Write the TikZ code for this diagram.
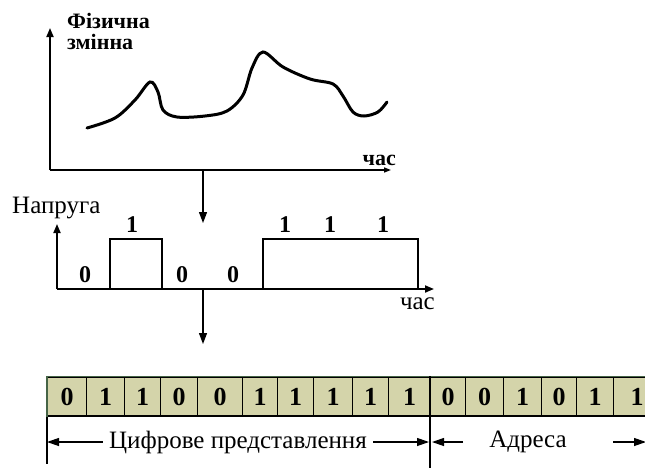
\documentclass[tikz,border=0pt]{standalone}
\usepackage{fontspec}
\setmainfont{Liberation Serif}
\usetikzlibrary{arrows.meta,calc}
\definecolor{cellfill}{RGB}{212,212,170}
\definecolor{cellborder}{RGB}{70,100,70}
\begin{document}
\begin{tikzpicture}[x=1pt,y=-1pt,
  axis/.style={line width=1.8pt,-{Triangle[length=9pt,width=7pt]}},
  flow/.style={line width=1.3pt,-{Triangle[length=11pt,width=8pt]}},
  curve/.style={line width=3pt,line cap=round},
  signal/.style={line width=1.8pt,line join=miter},
  lbl/.style={inner sep=0pt,font=\fontsize{25}{22}\selectfont},
  blbl/.style={inner sep=0pt,font=\bfseries\fontsize{22}{21}\selectfont},
  bit/.style={inner sep=0pt,font=\bfseries\fontsize{24}{24}\selectfont},
  cellbox/.style={draw=black,line width=1.2pt,fill=cellfill,minimum height=39pt,inner sep=0pt,font=\bfseries\fontsize{26}{26}\selectfont},
  dim/.style={line width=1.2pt,-{Triangle[length=12pt,width=8pt]}},
  guide/.style={line width=1.2pt}]
\useasboundingbox (0,0) rectangle (645,469);

% ---------- top graph ----------
\coordinate (o1) at (50,170);
\coordinate (y1) at (50,28);
\coordinate (x1) at (391,170);
\draw[axis] (o1) -- (y1);
\draw[line width=1.5pt,-{Triangle[length=7pt,width=5pt]}] (o1) -- (x1);
\node[blbl,anchor=north west,align=left] (phys) at (67,13) {Фізична\\змінна};
\node[blbl,anchor=south east] (t1) at (396,166) {час};
\draw[curve] plot[smooth,tension=0.55] coordinates {
  (87,128) (115,118) (135,100) (150,82) (158,92) (163,110) (177,117)
  (205,116) (227,111) (243,95) (252,68) (263,52) (283,67) (310,79)
  (333,84) (343,96) (353,112) (364,116) (378,112) (387,102)};

% arrow 1
\coordinate (a1s) at (203,170);
\coordinate (a1e) at (203,223);
\draw[flow] (a1s) -- (a1e);

% ---------- second graph ----------
\coordinate (o2) at (57,289);
\coordinate (y2) at (57,224);
\coordinate (x2) at (434,289);
\draw[axis] (o2) -- (y2);
\draw[axis] (o2) -- (x2);
\draw[signal] (o2) -- (110,289) -- (110,239) -- (162,239) -- (162,289)
  -- (263,289) -- (263,239) -- (418,239) -- (418,289);
\node[lbl,anchor=south west] (volt) at (12,219) {Напруга};
\node[lbl,anchor=north east] (t2) at (435,298) {час};
\node[bit] (b1) at (85,275) {0};
\node[bit] (b2) at (132,225) {1};
\node[bit] (b3) at (182,275) {0};
\node[bit] (b4) at (233,275) {0};
\node[bit] (b5) at (285,225) {1};
\node[bit] (b6) at (330,225) {1};
\node[bit] (b7) at (383,225) {1};

% arrow 2
\coordinate (a2s) at (203,289);
\coordinate (a2e) at (203,344);
\draw[flow] (a2s) -- (a2e);

% ---------- register ----------
\foreach \a/\b/\d [count=\i] in {47/86/0,86/124/1,124/160/1,160/197/0,197/242/0,
  242/277/1,277/313/1,313/352/1,352/388/1,388/430/1,430/465/0,465/503/0,
  503/541/1,541/576/0,576/613/1,613/660/1}{
  \node[cellbox,minimum width={(\b-\a)*1pt},anchor=west] (c\i) at (\a,396.5) {\d};
}
\draw[cellborder,line width=1.4pt] (c16.north east) -- (c1.north west) -- (c1.south west);

% dimension guides
\coordinate (g1) at ($(c1.south west)+(0,47)$);
\coordinate (g2) at ($(c11.north west)+(0,92)$);
\draw[guide] (c1.south west) -- (g1);
\draw[guide] (c11.north west) -- (g2);

\node[lbl] (digi) at (238,442) {Цифрове представлення};
\node[lbl] (addr) at (528,442) {Адреса};
\coordinate (d1) at (47,442);
\coordinate (d2) at (429,442);
\coordinate (d3) at (432,442);
\coordinate (d4) at (646,442);
\draw[dim] ([xshift=-6pt]digi.west) -- (d1);
\draw[dim] ([xshift=6pt]digi.east) -- (d2);
\draw[dim] (463,442) -- (d3);
\draw[dim] (613,442) -- (d4);
\end{tikzpicture}
\end{document}
